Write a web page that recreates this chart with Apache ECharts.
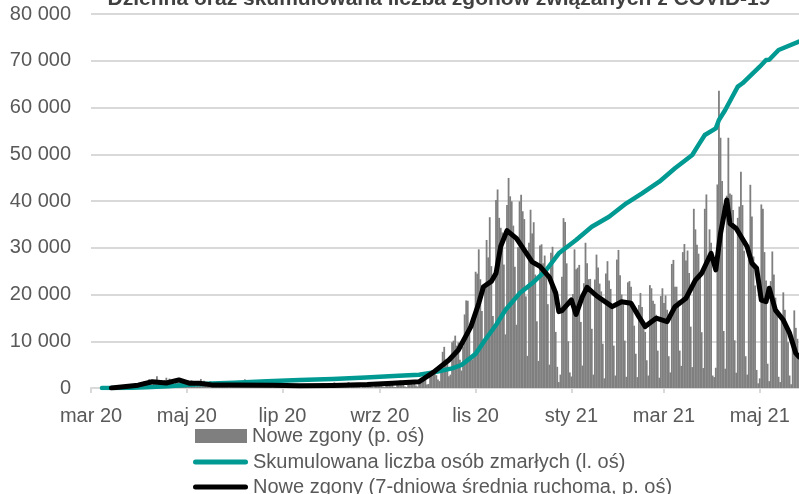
<!DOCTYPE html>
<html>
<head>
<meta charset="utf-8">
<script src="https://cdn.jsdelivr.net/npm/echarts@6/dist/echarts.min.js"></script>
<style>html,body{margin:0;padding:0;background:#fff;}#c{width:799px;height:494px;}</style>
</head>
<body>
<div id="c"></div>
<script>
// ---- DATA ----
const title = 'Dzienna oraz skumulowana liczba zgonów związanych z COVID-19';
const seriesNames = ['Nowe zgony (p. oś)', 'Skumulowana liczba osób zmarłych (l. oś)', 'Nowe zgony (7-dniowa średnia ruchoma, p. oś)'];
const firstDay = '2020-03-01';
const lastDay = '2021-05-26';
const tickDates = ['2020-03-01','2020-05-01','2020-07-01','2020-09-01','2020-11-01','2021-01-01','2021-03-01','2021-05-01'];
const tickLabels = ['mar 20','maj 20','lip 20','wrz 20','lis 20','sty 21','mar 21','maj 21'];

// daily new deaths (right axis), one value per day from firstDay
const newDeaths = [
  0,
  0,0,0,0,
  0,0,0,1,1,0,1,
  1,1,0,2,0,1,2,
  2,4,1,3,2,2,2,
  3,4,10,9,15,12,15,
  14,22,19,20,28,16,7,
  14,26,38,23,23,22,15,
  25,33,22,30,25,21,12,
  18,26,28,20,20,9,8,
  16,24,18,25,20,20,5,
  15,15,29,18,23,12,10,
  8,22,19,7,10,19,12,
  7,9,14,19,9,20,2,
  10,18,11,16,13,11,9,
  7,16,28,8,13,8,11,
  3,18,15,21,15,18,9,
  3,13,8,14,13,11,1,
  8,18,11,17,9,10,3,
  4,11,14,10,9,8,2,
  5,13,13,11,6,8,5,
  1,9,9,7,3,5,7,
  4,8,10,16,11,7,2,
  2,10,7,18,13,9,6,
  4,13,10,11,10,19,2,
  5,14,14,8,15,7,1,
  6,12,13,14,13,18,4,
  2,8,11,15,8,14,4,
  3,18,11,10,8,12,4,
  3,13,12,24,17,16,5,
  3,19,17,19,11,20,8,
  5,27,33,27,30,29,11,
  13,51,53,57,51,41,27,
  22,76,116,132,91,84,38,
  43,147,152,168,136,146,91,
  56,133,236,281,280,202,101,
  92,227,373,367,445,349,247,
  157,330,475,419,548,391,231,
  199,603,637,546,514,499,396,
  172,587,674,615,599,521,389,
  203,452,599,620,567,542,294,
  103,466,572,496,532,364,214,
  87,457,461,400,425,380,269,
  75,434,453,331,180,68,19,
  43,357,545,533,400,150,50,
  37,302,445,381,386,395,212,
  72,336,466,400,349,350,190,
  43,348,428,387,335,310,142,
  31,367,407,345,318,262,136,
  40,412,443,362,300,269,152,
  36,339,343,325,260,200,110,
  35,266,305,260,214,180,89,
  40,330,320,280,270,235,120,
  33,295,320,273,297,251,102,
  50,398,411,325,325,281,120,
  71,436,462,409,441,369,197,
  67,575,509,460,431,367,179,
  64,575,621,423,509,466,40,
  35,65,653,954,803,664,183,
  62,617,803,624,620,571,153,
  49,546,582,694,587,440,102,
  43,412,652,550,422,329,58,
  15,31,589,575,436,345,78,
  22,343,438,364,290,239,36,
  19,230,307,251,186,147,40,
  12,140,249,193,158,106
];

// cumulative deaths (left axis)
const cumDates = ['2020-03-08','2020-03-22','2020-04-05','2020-04-19','2020-05-03','2020-05-17','2020-05-31','2020-06-21','2020-07-12','2020-08-02','2020-08-23','2020-09-13','2020-09-26','2020-10-07','2020-10-17','2020-10-23','2020-11-01','2020-11-07','2020-11-14','2020-11-20','2020-11-29','2020-12-07','2020-12-16','2020-12-24','2021-01-04','2021-01-14','2021-01-25','2021-02-05','2021-02-15','2021-02-26','2021-03-08','2021-03-19','2021-03-23','2021-03-27','2021-04-03','2021-04-05','2021-04-09','2021-04-13','2021-04-17','2021-04-20','2021-05-01','2021-05-05','2021-05-07','2021-05-13','2021-05-26'];
const cumValues = [0,20,150,380,700,950,1150,1450,1700,1950,2250,2600,2850,3450,4200,4920,7300,10270,13480,16680,20250,22400,25240,28810,31660,34500,36640,39500,41640,44130,47000,49840,52000,54120,55540,57330,59470,61970,64450,65180,68730,70160,70200,72300,74100];

// 7-day moving average of new deaths (right axis)
const avgDates = ['2020-03-14','2020-03-31','2020-04-09','2020-04-18','2020-04-26','2020-05-03','2020-05-09','2020-05-17','2020-05-30','2020-06-24','2020-07-12','2020-08-02','2020-08-24','2020-09-09','2020-09-26','2020-10-05','2020-10-15','2020-10-21','2020-10-29','2020-11-03','2020-11-06','2020-11-11','2020-11-14','2020-11-17','2020-11-21','2020-11-27','2020-12-03','2020-12-07','2020-12-12','2020-12-18','2020-12-22','2020-12-24','2020-12-26','2021-01-01','2021-01-04','2021-01-08','2021-01-11','2021-01-17','2021-01-27','2021-02-02','2021-02-08','2021-02-13','2021-02-17','2021-02-24','2021-03-03','2021-03-08','2021-03-15','2021-03-21','2021-03-25','2021-03-31','2021-04-03','2021-04-06','2021-04-10','2021-04-12','2021-04-16','2021-04-23','2021-04-26','2021-04-29','2021-05-02','2021-05-05','2021-05-07','2021-05-11','2021-05-16','2021-05-20','2021-05-24','2021-05-26'];
const avgValues = [0,9,20,16,26,15,15,10,10,9,7,8,11,15,20,50,90,122,197,272,325,342,368,455,505,480,435,405,390,355,305,245,248,283,236,293,323,296,261,277,272,229,197,224,213,261,288,346,368,432,379,496,603,528,512,453,400,384,282,277,320,250,218,176,111,100];

// ---- CHART ----
const day = s => Date.parse(s + 'T00:00:00Z');
const t0 = day(firstDay);
const barData = newDeaths.map((v, i) => [t0 + i * 86400000, v]);
const cumData = cumDates.map((d, i) => [day(d), cumValues[i]]);
const avgData = avgDates.map((d, i) => [day(d), avgValues[i]]);
const tickTimes = tickDates.map(day);

const FONT = '"Liberation Sans", Arial, sans-serif';
const TXT = '#595959';
const CAPSULE = 'path://M2.5,0 L52.5,0 A2.5,2.5 0 0 1 52.5,5 L2.5,5 A2.5,2.5 0 0 1 2.5,0 Z';
const legendText = {fontFamily: FONT, fontSize: 20, color: TXT, lineHeight: 20};

const chart = echarts.init(document.getElementById('c'), null, {renderer: 'canvas'});
chart.setOption({
  animation: false,
  backgroundColor: '#ffffff',
  textStyle: {fontFamily: FONT},
  title: {
    text: title, left: 434, textAlign: 'center', top: -16,
    textStyle: {fontFamily: FONT, fontSize: 21, fontWeight: 'bold', color: '#404040'}
  },
  grid: {left: 91, right: 0, top: 14, bottom: 106, containLabel: false},
  legend: [
    {left: 190, top: 421, itemWidth: 52, itemHeight: 14, selectedMode: false,
     textStyle: legendText, data: [{name: seriesNames[0], icon: 'rect'}]},
    {left: 188, top: 447, itemWidth: 55, itemHeight: 5, selectedMode: false,
     textStyle: legendText, data: [{name: seriesNames[1], icon: CAPSULE}]},
    {left: 188, top: 472, itemWidth: 55, itemHeight: 5, selectedMode: false,
     textStyle: legendText, data: [{name: seriesNames[2], icon: CAPSULE}]}
  ],
  xAxis: {
    type: 'value', min: t0, max: day(lastDay),
    axisLine: {show: true, lineStyle: {color: '#d9d9d9', width: 2}},
    axisTick: {show: true, length: 5, lineStyle: {color: '#d9d9d9', width: 2}, customValues: tickTimes},
    axisLabel: {
      customValues: tickTimes, margin: 18, fontSize: 20, color: TXT, fontFamily: FONT,
      formatter: v => { const k = tickTimes.indexOf(v); return k >= 0 ? tickLabels[k] : ''; }
    },
    splitLine: {show: false}
  },
  yAxis: [
    {
      type: 'value', min: 0, max: 80000, interval: 10000,
      axisLine: {show: false}, axisTick: {show: false},
      axisLabel: {margin: 20, fontSize: 20, color: TXT, fontFamily: FONT,
        formatter: v => String(v).replace(/\B(?=(\d{3})+(?!\d))/g, ' ')},
      splitLine: {show: true, lineStyle: {color: '#d9d9d9', width: 2}}
    },
    {
      type: 'value', min: 0, max: 1200, interval: 150, show: false,
      splitLine: {show: false}
    }
  ],
  series: [
    {
      name: seriesNames[0], type: 'bar', yAxisIndex: 1, data: barData,
      barWidth: 1.8, itemStyle: {color: '#7f7f7f'}
    },
    {
      name: seriesNames[1], type: 'line', yAxisIndex: 0, data: cumData,
      symbol: 'none', smooth: false,
      lineStyle: {color: '#009a93', width: 4.5, cap: 'round', join: 'round'},
      itemStyle: {color: '#009a93'}
    },
    {
      name: seriesNames[2], type: 'line', yAxisIndex: 1, data: avgData,
      symbol: 'none', smooth: false,
      lineStyle: {color: '#000000', width: 5, cap: 'round', join: 'round'},
      itemStyle: {color: '#000000'}
    }
  ]
});
</script>
</body>
</html>
